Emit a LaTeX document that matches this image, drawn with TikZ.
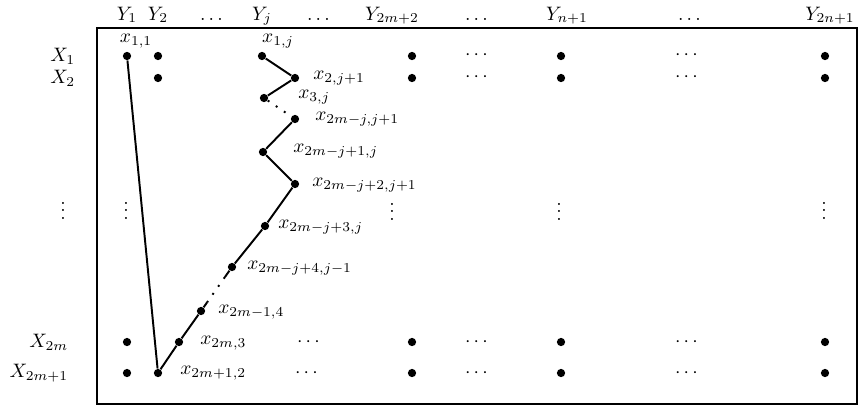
\documentclass[tikz,border=0pt]{standalone}
\usepackage{amsmath, amssymb}
\usetikzlibrary{calc}

\begin{document}
\begin{tikzpicture}[x=0.01805cm, y=-0.01805cm,
  dot/.style={circle,fill,inner sep=1.5pt},
  lbl/.style={anchor=west,inner sep=1pt}]
  \useasboundingbox (0,0) rectangle (859,410);
  % Frame
  \draw[line width=1.2pt] (97,28) rectangle (857,404);

  % Column heads
  \node[anchor=base] (hY1) at (127,20) {$Y_1$};
  \node[anchor=base] (hY2) at (158,20) {$Y_2$};
  \node[anchor=base] (hd1) at (213,20) {$\dots$};
  \node[anchor=base] (hYj) at (262,20) {$Y_j$};
  \node[anchor=base] (hd2) at (320,20) {$\dots$};
  \node[anchor=base] (hYm) at (392,20) {$Y_{2m+2}$};
  \node[anchor=base] (hd3) at (478,20) {$\dots$};
  \node[anchor=base] (hYn) at (567,20) {$Y_{n+1}$};
  \node[anchor=base] (hd4) at (691,20) {$\dots$};
  \node[anchor=base] (hYe) at (830,20) {$Y_{2n+1}$};

  % Row heads
  \node[anchor=east] (hX1) at (82,56) {$X_1$};
  \node[anchor=east] (hX2) at (82,78) {$X_2$};
  \node (hvd) at (63,205) {$\vdots$};
  \node[anchor=east] (hXm) at (75,342) {$X_{2m}$};
  \node[anchor=east] (hXe) at (75,373) {$X_{2m+1}$};

  % Entries away from the path
  \node[dot] (a11) at (127,56) {};
  \node[dot] (a12) at (158,56) {};
  \node[dot] (a1m) at (412,56) {};
  \node (c11) at (478,55) {$\cdots$};
  \node[dot] (a1n) at (561,56) {};
  \node (c12) at (688,55) {$\cdots$};
  \node[dot] (a1e) at (825,56) {};
  \node[dot] (a22) at (158,78) {};
  \node[dot] (a2m) at (412,78) {};
  \node (c21) at (478,77) {$\cdots$};
  \node[dot] (a2n) at (561,78) {};
  \node (c22) at (688,77) {$\cdots$};
  \node[dot] (a2e) at (825,78) {};
  \node (v1) at (126,205) {$\vdots$};
  \node (v2) at (392,206) {$\vdots$};
  \node (v3) at (559,206) {$\vdots$};
  \node (v4) at (824,205) {$\vdots$};
  \node[dot] (am1) at (127,342) {};
  \node (cm0) at (310,342) {$\cdots$};
  \node[dot] (amm) at (412,342) {};
  \node (cm1) at (478,342) {$\cdots$};
  \node[dot] (amn) at (561,342) {};
  \node (cm2) at (688,342) {$\cdots$};
  \node[dot] (ame) at (825,342) {};
  \node[dot] (ae1) at (127,373) {};
  \node (ce0) at (308,373) {$\cdots$};
  \node[dot] (aem) at (412,373) {};
  \node (ce1) at (478,373) {$\cdots$};
  \node[dot] (aen) at (561,373) {};
  \node (ce2) at (688,373) {$\cdots$};
  \node[dot] (aee) at (825,373) {};

  % Path entries
  \node[dot] (p0) at (262,56) {};
  \node[dot] (p1) at (295,78) {};
  \node[dot] (p2) at (264,98) {};
  \node[dot] (p3) at (295,119) {};
  \node[dot] (p4) at (263,152) {};
  \node[dot] (p5) at (295,184) {};
  \node[dot] (p6) at (265,226) {};
  \node[dot] (p7) at (232,267) {};
  \node[dot] (p8) at (201,311) {};
  \node[dot] (p9) at (179,342) {};
  \node[dot] (p10) at (158,373) {};

  % Labels
  \node[inner sep=1pt] (l11) at (136,41) {$x_{1,1}$};
  \node[inner sep=1pt] (l0) at (278,41) {$x_{1,j}$};
  \node[lbl] (l1) at (311,78) {$x_{2,j+1}$};
  \node[lbl] (l2) at (296,97) {$x_{3,j}$};
  \node[lbl] (l3) at (313,119) {$x_{2m-j,j+1}$};
  \node[lbl] (l4) at (291,151) {$x_{2m-j+1,j}$};
  \node[lbl] (l5) at (310,185) {$x_{2m-j+2,j+1}$};
  \node[lbl] (l6) at (276,227) {$x_{2m-j+3,j}$};
  \node[lbl] (l7) at (245,268) {$x_{2m-j+4,j-1}$};
  \node[lbl] (l8) at (216,312) {$x_{2m-1,4}$};
  \node[lbl] (l9) at (198,343) {$x_{2m,3}$};
  \node[lbl] (l10) at (178,373) {$x_{2m+1,2}$};

  % Paths
  \draw[line width=1pt] (a11) -- (p10);
  \draw[line width=1pt] (p0) -- (p1) -- (p2);
  \draw[line width=1pt, loosely dotted] (p2) -- (p3);
  \draw[line width=1pt] (p3) -- (p4) -- (p5) -- (p6) -- (p7);
  \coordinate (q1) at ($(p7)!0.23!(p8)$);
  \coordinate (q2) at ($(p8)!0.2!(p7)$);
  \draw[line width=1pt] (p7) -- (q1);
  \draw[line width=1pt, loosely dotted] (q1) -- (q2);
  \draw[line width=1pt] (q2) -- (p8) -- (p9) -- (p10);
\end{tikzpicture}
\end{document}
